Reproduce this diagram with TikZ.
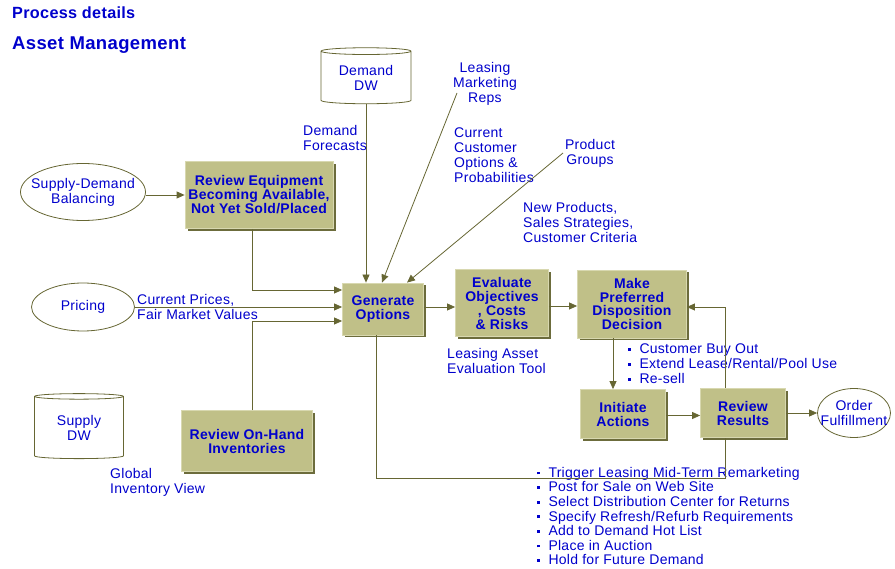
\documentclass[tikz,border=0pt]{standalone}
\usepackage{fontspec}
\setmainfont{Liberation Sans}[LetterSpace=2]
\usetikzlibrary{positioning}
\usetikzlibrary{shapes.geometric,shadows,arrows.meta}
\definecolor{boxfill}{RGB}{192,192,136}
\definecolor{boxedge}{RGB}{216,216,176}
\definecolor{boxshade}{RGB}{108,108,60}
\definecolor{linecol}{RGB}{102,102,51}
\definecolor{txtblue}{RGB}{0,0,204}
\newcommand\sqb{\rule[3pt]{2.8pt}{2.8pt}\hspace{8.5pt}}

\begin{document}
\begin{tikzpicture}[x=1pt,y=-1pt,
  every node/.style={text=txtblue,inner sep=0pt},
  lbl/.style={font=\fontsize{14}{15}\selectfont,align=left,anchor=north west},
  proc/.style={rectangle,fill=boxfill,draw=boxedge,line width=0.8pt,align=center,
    font=\bfseries\fontsize{14}{14}\selectfont,
    drop shadow={shadow xshift=2.5pt,shadow yshift=-2.5pt,fill=boxshade,opacity=1}},
  src/.style={ellipse,draw=linecol,line width=0.8pt,inner sep=-12pt,
    font=\fontsize{14}{15}\selectfont,align=center},
  dwstore/.style={cylinder,shape border rotate=90,shape aspect=0.12,draw=linecol,
    line width=0.8pt,inner sep=1pt,font=\fontsize{14}{15}\selectfont,align=center},
  flow/.style={draw=linecol,line width=0.8pt,-{Triangle[length=8pt,width=7pt]}},
  link/.style={draw=linecol,line width=0.8pt}]
 \useasboundingbox (0,0) rectangle (895,569);

 % titles
 \node[anchor=base west,font=\bfseries\fontsize{16.2}{18}\selectfont] (hd1) at (12,19) {Process details};
 \node[anchor=base west,font=\bfseries\fontsize{18.5}{20}\selectfont] (hd2) at (12,50) {Asset Management};

 % sources and stores
 \node[src,minimum width=125,minimum height=57] (sdb) at (83,192) {Supply-Demand\\Balancing};
 \node[src,minimum width=103,minimum height=48] (pri) at (83,307) {Pricing};
 \node[src,minimum width=73,minimum height=49] (ofl) at (854,413) {Order\\Fulfillment};
 \node[dwstore,minimum width=90,minimum height=56] (ddw) at (366,78) {Demand\\DW};
 \node[dwstore,minimum width=89,minimum height=65] (sdw) at (79,428) {Supply\\DW};

 % process boxes
 \node[proc,minimum width=148,minimum height=67] (reveq) at (259,195) {Review Equipment\\Becoming Available,\\Not Yet Sold/Placed};
 \node[proc,minimum width=81,minimum height=52] (genopt) at (383,309) {Generate\\Options};
 \node[proc,minimum width=93,minimum height=67] (evalobj) at (502,303) {Evaluate\\Objectives\\, Costs\\\& Risks};
 \node[proc,minimum width=109,minimum height=68,font=\bfseries\fontsize{14}{13.5}\selectfont] (mkdec) at (632,304) {Make\\Preferred\\Disposition\\Decision};
 \node[proc,minimum width=85,minimum height=49] (initact) at (623,414) {Initiate\\Actions};
 \node[proc,minimum width=85,minimum height=49] (revres) at (743,413) {Review\\Results};
 \node[proc,minimum width=131,minimum height=61] (revinv) at (247,441) {Review On-Hand\\Inventories};

 % labels
 \node[lbl] (dfc) at (303,125) {Demand\\Forecasts};
 \node[lbl,align=center,anchor=north] (lmr) at (485,62) {Leasing\\Marketing\\Reps};
 \node[lbl] (cco) at (454,128) {Current\\Customer\\Options \&\\Probabilities};
 \node[lbl,align=center,anchor=north] (pgr) at (590,139) {Product\\Groups};
 \node[lbl] (nps) at (523,202) {New Products,\\Sales Strategies,\\Customer Criteria};
 \node[lbl] (cpr) at (137,294) {Current Prices,\\Fair Market Values};
 \node[lbl] (lae) at (447,348) {Leasing Asset\\Evaluation Tool};
 \node[lbl] (giv) at (110,468) {Global\\Inventory View};
 \node[lbl] (dispo) at (628,344) {\sqb Customer Buy Out\\\sqb Extend Lease/Rental/Pool Use\\\sqb Re-sell};
 \node[lbl,font=\fontsize{14}{14.6}\selectfont] (acts) at (537,467) {\sqb Trigger Leasing Mid-Term Remarketing\\\sqb Post for Sale on Web Site\\\sqb Select Distribution Center for Returns\\\sqb Specify Refresh/Refurb Requirements\\\sqb Add to Demand Hot List\\\sqb Place in Auction\\\sqb Hold for Future Demand};

 \coordinate (lmrfoot) at (457,93);
 \coordinate (pgrfoot) at (563,153);

 % connectors
 \draw[flow] (sdb.east |- reveq.west) -- (reveq.west);
 \draw[flow] ([xshift=-7pt]reveq.south) |- ([yshift=19pt]genopt.west);
 \draw[flow] (pri.east) -- (pri.east -| genopt.west);
 \draw[flow] ([xshift=5pt]revinv.north) |- ([yshift=-12pt]genopt.west);
 \draw[flow] (ddw.bottom) -- (ddw.bottom |- genopt.north);
 \draw[flow] (lmrfoot) -- ([xshift=-1pt]genopt.north);
 \draw[flow] (pgrfoot) -- ([xshift=24pt]genopt.north);
 \draw[flow] ([yshift=2pt]genopt.east) -- ([yshift=2pt]genopt.east -| evalobj.west);
 \draw[flow] ([yshift=-3pt]evalobj.east) -- ([yshift=-3pt]evalobj.east -| mkdec.west);
 \draw[flow] ([xshift=-19pt]mkdec.south) -- ([xshift=-19pt]mkdec.south |- initact.north);
 \draw[flow] ([yshift=-1.5pt]initact.east) -- ([yshift=-1.5pt]initact.east -| revres.west);
 \draw[flow] (revres.east) -- (revres.east -| ofl.west);
 \draw[flow] ([xshift=-18pt]revres.north) |- ([yshift=-3pt]mkdec.east);
 \draw[link] ([xshift=-7pt]genopt.south) |- ([xshift=-18pt,yshift=-40pt]revres.south) -- ([xshift=-18pt]revres.south);
\end{tikzpicture}
\end{document}
